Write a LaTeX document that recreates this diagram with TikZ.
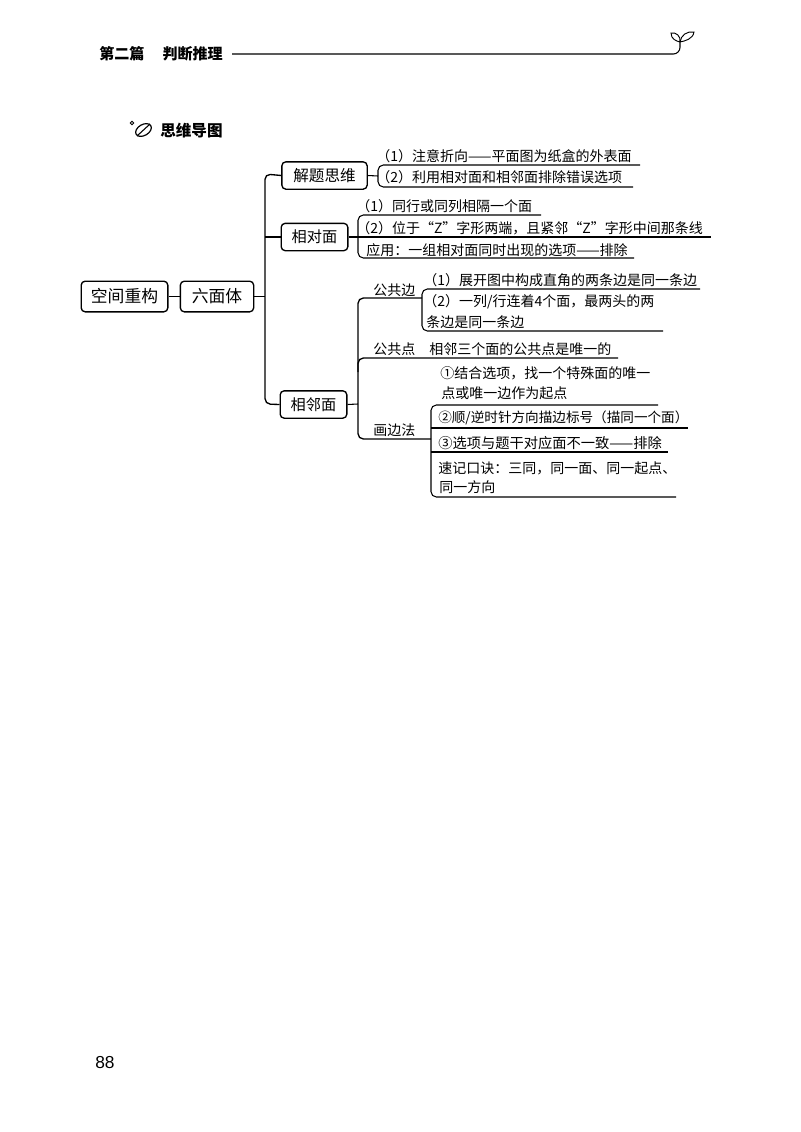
\documentclass[tikz,border=0pt]{standalone}
\usepackage{fontspec}
\setmainfont{Noto Sans CJK SC}
\setsansfont{Liberation Sans}
\usetikzlibrary{positioning}
\tikzset{
	bigbox/.style={draw, line width=1pt, rounded corners=3pt, minimum height=23pt, inner sep=0pt, font=\fontsize{12.6}{14}\selectfont},
	midbox/.style={draw, line width=1pt, rounded corners=3pt, minimum height=20.5pt, inner sep=0pt, font=\fontsize{11.4}{14}\selectfont},
	leaftext/.style={anchor=west, inner sep=0pt, font=\fontsize{10.5}{12}\selectfont},
	rule/.style={line width=0.8pt, rounded corners=4pt},
	trunk/.style={line width=1pt, rounded corners=4pt}
}
\begin{document}
\begin{tikzpicture}[x=0.75pt, y=-0.75pt]
	\useasboundingbox (0,0) rectangle (800,1132);
	% page head
	\node [anchor=west, inner sep=0pt, font=\fontsize{11.3}{13}\bfseries\selectfont] (head) at (99,54) {第二篇\hspace{1.2em}判断推理};
	\coordinate (headend) at (680,42);
	\draw [line width=0.8pt, rounded corners=5pt] (head.east) ++(9,0) -- (680,54) -- (headend);
	\draw [line width=0.7pt] (headend) .. controls (676,41) and (671,39) .. (671,33) .. controls (676,32) and (681,36) .. (headend);
	\draw [line width=0.7pt] (headend) .. controls (685,41) and (693,39) .. (694,32) .. controls (687,31) and (681,35) .. (headend);
	% title
	\node [anchor=west, inner sep=0pt, font=\fontsize{11.7}{13}\bfseries\selectfont] (title) at (160,131) {思维导图};
	\draw [line width=0.7pt] (132,123) circle (1.8);
	\draw [line width=0.9pt, rotate around={30:(143.5,130)}] (143.5,130) ellipse (8.5 and 5.5);
	\draw [line width=0.8pt] (137,136) -- (150,124);
	% main boxes
	\node [bigbox, minimum width=65pt] (space) at (124.5,296.5) {空间重构};
	\node [bigbox, minimum width=55pt] (cube) at (217,296.5) {六面体};
	\node [midbox, minimum width=64pt, font=\fontsize{11.7}{14}\selectfont] (think) at (324.5,175.5) {解题思维};
	\node [midbox, minimum width=50pt] (opp) at (314.5,237) {相对面};
	\node [midbox, minimum width=50pt] (adj) at (313.5,404.5) {相邻面};
	\draw [line width=0.8pt] (space) -- (cube);
	% trunk
	\coordinate (fork) at (265,296.5);
	\draw [line width=1.2pt] (cube) -- (fork);
	\draw [trunk] (think.west) -- (265,174) -- (265,404) -- (adj.west);
	\draw [line width=0.8pt] (265,237) -- (opp.west);
	% thinking
	\node [leaftext] (t1) at (376,156) {（1）注意折向——平面图为纸盒的外表面};
	\node [leaftext] (t2) at (376,177) {（2）利用相对面和相邻面排除错误选项};
	\coordinate (t1end) at (640,165);
	\coordinate (t2end) at (633,187);
	\draw [rule] (t1end) -- (378,165) -- (378,187) -- (t2end);
	\draw [rule] (think.east) -- (378,176);
	% opposite
	\node [leaftext] (o1) at (356,206) {（1）同行或同列相隔一个面};
	\node [leaftext] (o2) at (356,228) {（2）位于“Z”字形两端，且紧邻“Z”字形中间那条线};
	\node [leaftext] (o3) at (366,250) {应用：一组相对面同时出现的选项——排除};
	\coordinate (o1end) at (541,215);
	\coordinate (o2end) at (711,237);
	\coordinate (o3end) at (634,258);
	\draw [rule] (o1end) -- (358,215) -- (358,258) -- (o3end);
	\draw [rule] (opp.east) -- (o2end);
	% adjacent
	\node [leaftext] (edge) at (373,290) {公共边};
	\node [leaftext] (point) at (373,349) {公共点};
	\node [leaftext] (pointtext) at (429,349) {相邻三个面的公共点是唯一的};
	\node [leaftext] (draw) at (373,430) {画边法};
	\coordinate (pointend) at (618,358);
	\coordinate (edgeend) at (422,298);
	\coordinate (drawend) at (431,439);
	\draw [trunk] (edgeend) -- (358,298) -- (358,439) -- (drawend);
	\draw [trunk] (358,372) -- (358,358) -- (pointend);
	\draw [rule] (adj.east) -- (358,404);
	% common edge
	\node [leaftext] (e1) at (423,280) {（1）展开图中构成直角的两条边是同一条边};
	\node [leaftext] (e2) at (423,302) {（2）一列/行连着4个面，最两头的两};
	\node [leaftext] (e3) at (426,322) {条边是同一条边};
	\coordinate (e1end) at (700,289);
	\coordinate (e3end) at (663,331);
	\draw [rule] (e1end) -- (422,289) -- (422,331) -- (e3end);
	% drawing edges
	\node [leaftext] (d1) at (440,373) {①结合选项，找一个特殊面的唯一};
	\node [leaftext] (d2) at (441,393) {点或唯一边作为起点};
	\node [leaftext, font=\fontsize{10.2}{12}\selectfont] (d3) at (438,418) {②顺/逆时针方向描边标号（描同一个面）};
	\node [leaftext, font=\fontsize{10.7}{12}\selectfont] (d4) at (438,443) {③选项与题干对应面不一致——排除};
	\node [leaftext] (d5) at (438,468) {速记口诀：三同，同一面、同一起点、};
	\node [leaftext] (d6) at (439,487) {同一方向};
	\coordinate (d2end) at (658,405);
	\coordinate (d3end) at (688,428);
	\coordinate (d4end) at (668,452);
	\coordinate (d6end) at (676,497);
	\draw [rule] (d2end) -- (431,405) -- (431,497) -- (d6end);
	\draw [rule, rounded corners=0pt] (431,428) -- (d3end);
	\draw [rule, rounded corners=0pt] (431,452) -- (d4end);
	% page number
	\node [anchor=west, inner sep=0pt, font=\sffamily\fontsize{13}{15}\selectfont] (page) at (95,1063) {88};
\end{tikzpicture}
\end{document}
